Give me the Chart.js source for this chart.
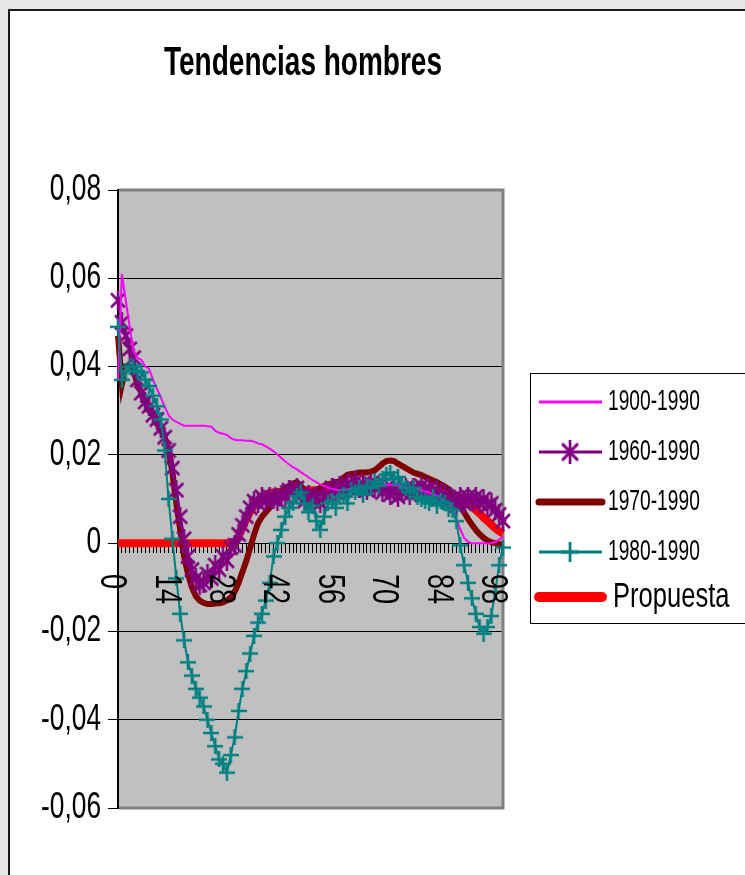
<!DOCTYPE html>
<html>
<head>
<meta charset="utf-8">
<title>Tendencias hombres</title>
<script src="https://cdn.jsdelivr.net/npm/chart.js@4/dist/chart.umd.min.js"></script>
<style>
  html, body { margin: 0; padding: 0; background: #e6e6e6; }
  canvas { display: block; }
</style>
</head>
<body>
<canvas id="grafico" width="745" height="875"></canvas>
<script>
// Edades 0..99 en el eje de categorías
const edades = Array.from({ length: 100 }, (_, i) => i);
const etiquetasEdad = ['0', '14', '28', '42', '56', '70', '84', '98'];
const nombres = ['1900-1990', '1960-1990', '1970-1990', '1980-1990', 'Propuesta'];

const serie1900 = [
  0.037, 0.061, 0.055, 0.049, 0.0435, 0.042, 0.0415, 0.040, 0.0395, 0.037,
  0.035, 0.033, 0.031, 0.029, 0.028, 0.0275, 0.027, 0.0266, 0.0266, 0.0266,
  0.0266, 0.0266, 0.0266, 0.0265, 0.0264, 0.0255, 0.025, 0.0248, 0.0245, 0.0238,
  0.0234, 0.0233, 0.0233, 0.0232, 0.0232, 0.023, 0.0226, 0.0224, 0.0219, 0.0214,
  0.0208, 0.0201, 0.0193, 0.0185, 0.0178, 0.0172, 0.0167, 0.0161, 0.0155, 0.0149,
  0.0143, 0.0138, 0.0133, 0.013, 0.0126, 0.0123, 0.0121, 0.012, 0.0121, 0.0122,
  0.0124, 0.0125, 0.0127, 0.0128, 0.0129, 0.013, 0.0131, 0.0131, 0.0132, 0.0132,
  0.0132, 0.0131, 0.013, 0.0129, 0.0128, 0.0126, 0.0124, 0.0122, 0.012, 0.0117,
  0.0114, 0.0111, 0.0107, 0.0102, 0.0096, 0.0088, 0.0074, 0.0055, 0.0032, 0.0012,
  0.0003, 0, 0, 0, 0, 0, 0, 0.0003, 0.0008, 0.0015
];

const serie1960 = [
  0.055, 0.050, 0.047, 0.044, 0.042, 0.037, 0.034, 0.032, 0.031, 0.029,
  0.028, 0.026, 0.024, 0.021, 0.017, 0.012, 0.006, 0.001, -0.003, -0.006,
  -0.008, -0.0095, -0.009, -0.007, -0.008, -0.005, -0.006, -0.003, -0.004, -0.001,
  -0.0005, 0.002, 0.004, 0.006, 0.008, 0.0095, 0.009, 0.0105, 0.0095, 0.0105,
  0.010, 0.0095, 0.011, 0.0105, 0.012, 0.0115, 0.0125, 0.011, 0.0095, 0.011,
  0.0095, 0.0105, 0.009, 0.0105, 0.011, 0.0125, 0.0115, 0.013, 0.012, 0.0135,
  0.0125, 0.014, 0.0125, 0.0135, 0.012, 0.0135, 0.0125, 0.013, 0.0115, 0.0125,
  0.011, 0.012, 0.0105, 0.0115, 0.0125, 0.011, 0.0125, 0.0115, 0.013, 0.0115,
  0.0125, 0.011, 0.012, 0.0105, 0.011, 0.0095, 0.010, 0.0085, 0.0105, 0.009,
  0.0105, 0.0095, 0.0105, 0.009, 0.010, 0.0085, 0.009, 0.0075, 0.0065, 0.005
];

const serie1970 = [
  0.047, 0.036, 0.040, 0.040, 0.039, 0.036, 0.034, 0.032, 0.030, 0.029,
  0.027, 0.026, 0.024, 0.021, 0.016, 0.009, 0.003, -0.003, -0.007, -0.010,
  -0.012, -0.013, -0.0135, -0.0138, -0.0138, -0.0137, -0.0136, -0.0134, -0.013, -0.0123,
  -0.011, -0.009, -0.0065, -0.004, -0.001, 0.002, 0.0045, 0.006, 0.007, 0.008,
  0.0095, 0.011, 0.0115, 0.0125, 0.013, 0.0135, 0.0138, 0.013, 0.012, 0.0115,
  0.0115, 0.012, 0.0125, 0.013, 0.0133, 0.0135, 0.0138, 0.014, 0.0148, 0.0155,
  0.0157, 0.0158, 0.016, 0.016, 0.016, 0.0162, 0.0165, 0.0172, 0.018, 0.0186,
  0.0187, 0.0186, 0.018, 0.0175, 0.017, 0.0165, 0.016, 0.0157, 0.0154, 0.015,
  0.0146, 0.0142, 0.0138, 0.0133, 0.0128, 0.0122, 0.011, 0.0095, 0.0083, 0.007,
  0.0055, 0.0042, 0.003, 0.002, 0.0012, 0.0006, 0.0002, 0, -0.0002, -0.0003
];

const serie1980 = [
  0.049, 0.037, 0.039, 0.040, 0.040, 0.039, 0.0387, 0.037, 0.0356, 0.0334,
  0.031, 0.028, 0.021, 0.010, 0.001, -0.008, -0.016, -0.022, -0.027, -0.030,
  -0.033, -0.035, -0.037, -0.040, -0.043, -0.046, -0.049, -0.050, -0.052, -0.048,
  -0.044, -0.038, -0.033, -0.029, -0.025, -0.021, -0.018, -0.016, -0.013, -0.009,
  -0.003, 0.000, 0.003, 0.006, 0.008, 0.009, 0.0107, 0.0115, 0.009, 0.007,
  0.0085, 0.005, 0.003, 0.006, 0.009, 0.0095, 0.008, 0.0105, 0.011, 0.009,
  0.012, 0.0115, 0.0125, 0.011, 0.013, 0.0125, 0.014, 0.013, 0.0145, 0.0155,
  0.016, 0.0145, 0.015, 0.0135, 0.0125, 0.0115, 0.0125, 0.0105, 0.010, 0.0095,
  0.009, 0.0105, 0.0085, 0.0095, 0.009, 0.0078, 0.0075, 0.005, -0.0005, -0.005,
  -0.009, -0.0125, -0.016, -0.019, -0.0205, -0.019, -0.0165, -0.011, -0.005, -0.001
];

const seriePropuesta = [
  0, 0, 0, 0, 0, 0, 0, 0, 0, 0,
  0, 0, 0, 0, 0, 0, 0, 0, 0, 0,
  0, 0, 0, 0, 0, 0, 0, 0, 0, 0,
  0, 0.0015, 0.0035, 0.0055, 0.0072, 0.0086, 0.0097, 0.0105, 0.011, 0.0113,
  0.0115, 0.0116, 0.0116, 0.0117, 0.0117, 0.0118, 0.0118, 0.0119, 0.0119, 0.012,
  0.012, 0.012, 0.0121, 0.0121, 0.0122, 0.0122, 0.0123, 0.0123, 0.0123, 0.0124,
  0.0124, 0.0124, 0.0125, 0.0125, 0.0125, 0.0125, 0.0125, 0.0125, 0.0125, 0.0125,
  0.0125, 0.0125, 0.0125, 0.0124, 0.0124, 0.0124, 0.0123, 0.0123, 0.0122, 0.0122,
  0.0121, 0.012, 0.0119, 0.0118, 0.0116, 0.0114, 0.0111, 0.0107, 0.0102, 0.0096,
  0.009, 0.0083, 0.0075, 0.0067, 0.0058, 0.005, 0.0042, 0.0034, 0.0027, 0.0022
];

const FUENTE = '"Liberation Sans", Arial, sans-serif';

// marcadores tipo Excel: asterisco (X + vertical) y cruz
function marcadorAsterisco(color) {
  const c = document.createElement('canvas');
  c.width = 16; c.height = 20;
  const g = c.getContext('2d');
  g.strokeStyle = color; g.lineWidth = 2.5;
  g.beginPath();
  g.moveTo(8, 0); g.lineTo(8, 20);
  g.moveTo(1, 3); g.lineTo(15, 17);
  g.moveTo(15, 3); g.lineTo(1, 17);
  g.stroke();
  return c;
}
function marcadorCruz(color) {
  const c = document.createElement('canvas');
  c.width = 16; c.height = 16;
  const g = c.getContext('2d');
  g.strokeStyle = color; g.lineWidth = 2.5;
  g.beginPath();
  g.moveTo(0, 8); g.lineTo(16, 8);
  g.moveTo(8, 0); g.lineTo(8, 16);
  g.stroke();
  return c;
}
const estrella = marcadorAsterisco('#800080');
const cruz = marcadorCruz('#008080');

// texto estrecho (escala horizontal) como en la hoja original
function texto(ctx, str, x, y, font, sx, align, baseline, rot) {
  ctx.save();
  ctx.translate(x, y);
  if (rot) ctx.rotate(rot);
  ctx.scale(sx, 1);
  ctx.font = font;
  ctx.fillStyle = '#000';
  ctx.textAlign = align;
  ctx.textBaseline = baseline;
  ctx.fillText(str, 0, 0);
  ctx.restore();
}

const fondo = {
  id: 'fondo',
  beforeDraw(chart) {
    const { ctx, chartArea: a } = chart;
    ctx.save();
    ctx.fillStyle = '#e6e6e6';
    ctx.fillRect(0, 0, chart.width, chart.height);
    ctx.fillStyle = '#ffffff';
    ctx.fillRect(8, 9, chart.width - 8, chart.height - 9);
    ctx.strokeStyle = '#1a1a1a';
    ctx.lineWidth = 2;
    ctx.beginPath();
    ctx.moveTo(9, chart.height); ctx.lineTo(9, 10); ctx.lineTo(chart.width, 10);
    ctx.stroke();
    ctx.fillStyle = '#c0c0c0';
    ctx.fillRect(a.left, a.top, a.right - a.left, a.bottom - a.top);
    ctx.restore();
  },
  beforeDatasetsDraw(chart) {
    const { ctx, chartArea: a } = chart;
    ctx.save();
    ctx.strokeStyle = '#808080';
    ctx.lineWidth = 3;
    ctx.beginPath();
    ctx.moveTo(a.left + 1, a.top); ctx.lineTo(a.right, a.top);
    ctx.lineTo(a.right, a.bottom); ctx.lineTo(a.left + 1, a.bottom);
    ctx.stroke();
    ctx.restore();
  }
};

const rotulos = {
  id: 'rotulos',
  afterDraw(chart) {
    const ctx = chart.ctx;
    const ys = chart.scales.y, xs = chart.scales.x;

    texto(ctx, 'Tendencias hombres', 303, 75, 'bold 40px ' + FUENTE, 0.70, 'center', 'alphabetic');

    ys.ticks.forEach(t => {
      const v = t.value;
      const s = Math.abs(v) < 1e-9 ? '0' : v.toFixed(2).replace('.', ',');
      texto(ctx, s, 101, ys.getPixelForValue(v), '36px ' + FUENTE, 0.73, 'right', 'middle');
    });

    etiquetasEdad.forEach(lbl => {
      const px = xs.getPixelForValue(edades.indexOf(Number(lbl)));
      texto(ctx, lbl, px - 7, 574, '36px ' + FUENTE, 0.75, 'left', 'middle', Math.PI / 2);
    });

    // leyenda
    ctx.save();
    ctx.fillStyle = '#ffffff';
    ctx.fillRect(530, 373, 220, 250);
    ctx.strokeStyle = '#000';
    ctx.lineWidth = 1;
    ctx.strokeRect(530.5, 373.5, 220, 250);
    const filas = [402, 452, 502, 552, 597];
    chart.data.datasets.forEach((ds, i) => {
      const y = filas[i];
      ctx.strokeStyle = ds.borderColor;
      ctx.lineWidth = ds.legendWidth;
      ctx.lineCap = ds.legendWidth > 4 ? 'round' : 'butt';
      ctx.beginPath();
      ctx.moveTo(539, y); ctx.lineTo(602, y);
      ctx.stroke();
      if (ds.pointStyle instanceof HTMLCanvasElement) {
        const m = ds.pointStyle;
        ctx.drawImage(m, 570 - m.width / 2 - 1, y - m.height / 2 - 2, m.width + 2, m.height + 4);
      }
      if (ds.label === 'Propuesta') {
        texto(ctx, ds.label, 613, y, '35px ' + FUENTE, 0.73, 'left', 'middle');
      } else {
        texto(ctx, ds.label, 608, y, '30px ' + FUENTE, 0.64, 'left', 'middle');
      }
    });
    ctx.restore();
  }
};

new Chart(document.getElementById('grafico'), {
  type: 'line',
  data: {
    labels: edades,
    datasets: [
      { label: nombres[0], data: serie1900, borderColor: '#ff00ff', borderWidth: 2, pointRadius: 0, order: 1, legendWidth: 3 },
      { label: nombres[1], data: serie1960, borderColor: '#800080', borderWidth: 3, pointStyle: estrella, pointRadius: 8, order: 2, legendWidth: 3 },
      { label: nombres[2], data: serie1970, borderColor: '#800000', borderWidth: 6, pointRadius: 0, order: 3, legendWidth: 7 },
      { label: nombres[3], data: serie1980, borderColor: '#008080', borderWidth: 2, pointStyle: cruz, pointRadius: 8, order: 0, legendWidth: 3 },
      { label: nombres[4], data: seriePropuesta, borderColor: '#ff0000', borderWidth: 8, pointRadius: 0, order: 4, legendWidth: 10 }
    ]
  },
  options: {
    responsive: false,
    devicePixelRatio: 1,
    animation: false,
    events: [],
    layout: { padding: { left: 108, top: 190, right: 242, bottom: 67 } },
    elements: { line: { tension: 0, fill: false }, point: { borderWidth: 0 } },
    plugins: { legend: { display: false }, tooltip: { enabled: false }, title: { display: false } },
    scales: {
      x: {
        type: 'category',
        position: { y: 0 },
        offset: false,
        ticks: { display: false },
        grid: { drawOnChartArea: false, drawTicks: true, tickLength: 9, color: '#000', lineWidth: 1 },
        border: { display: true, color: '#000', width: 1 }
      },
      y: {
        min: -0.06,
        max: 0.08,
        ticks: { display: false, stepSize: 0.02 },
        grid: { color: '#000', lineWidth: 1, tickLength: 10, drawTicks: true },
        border: { color: '#000', width: 2 },
        afterFit(scale) { scale.width = 10; }
      }
    }
  },
  plugins: [fondo, rotulos]
});
</script>
</body>
</html>
